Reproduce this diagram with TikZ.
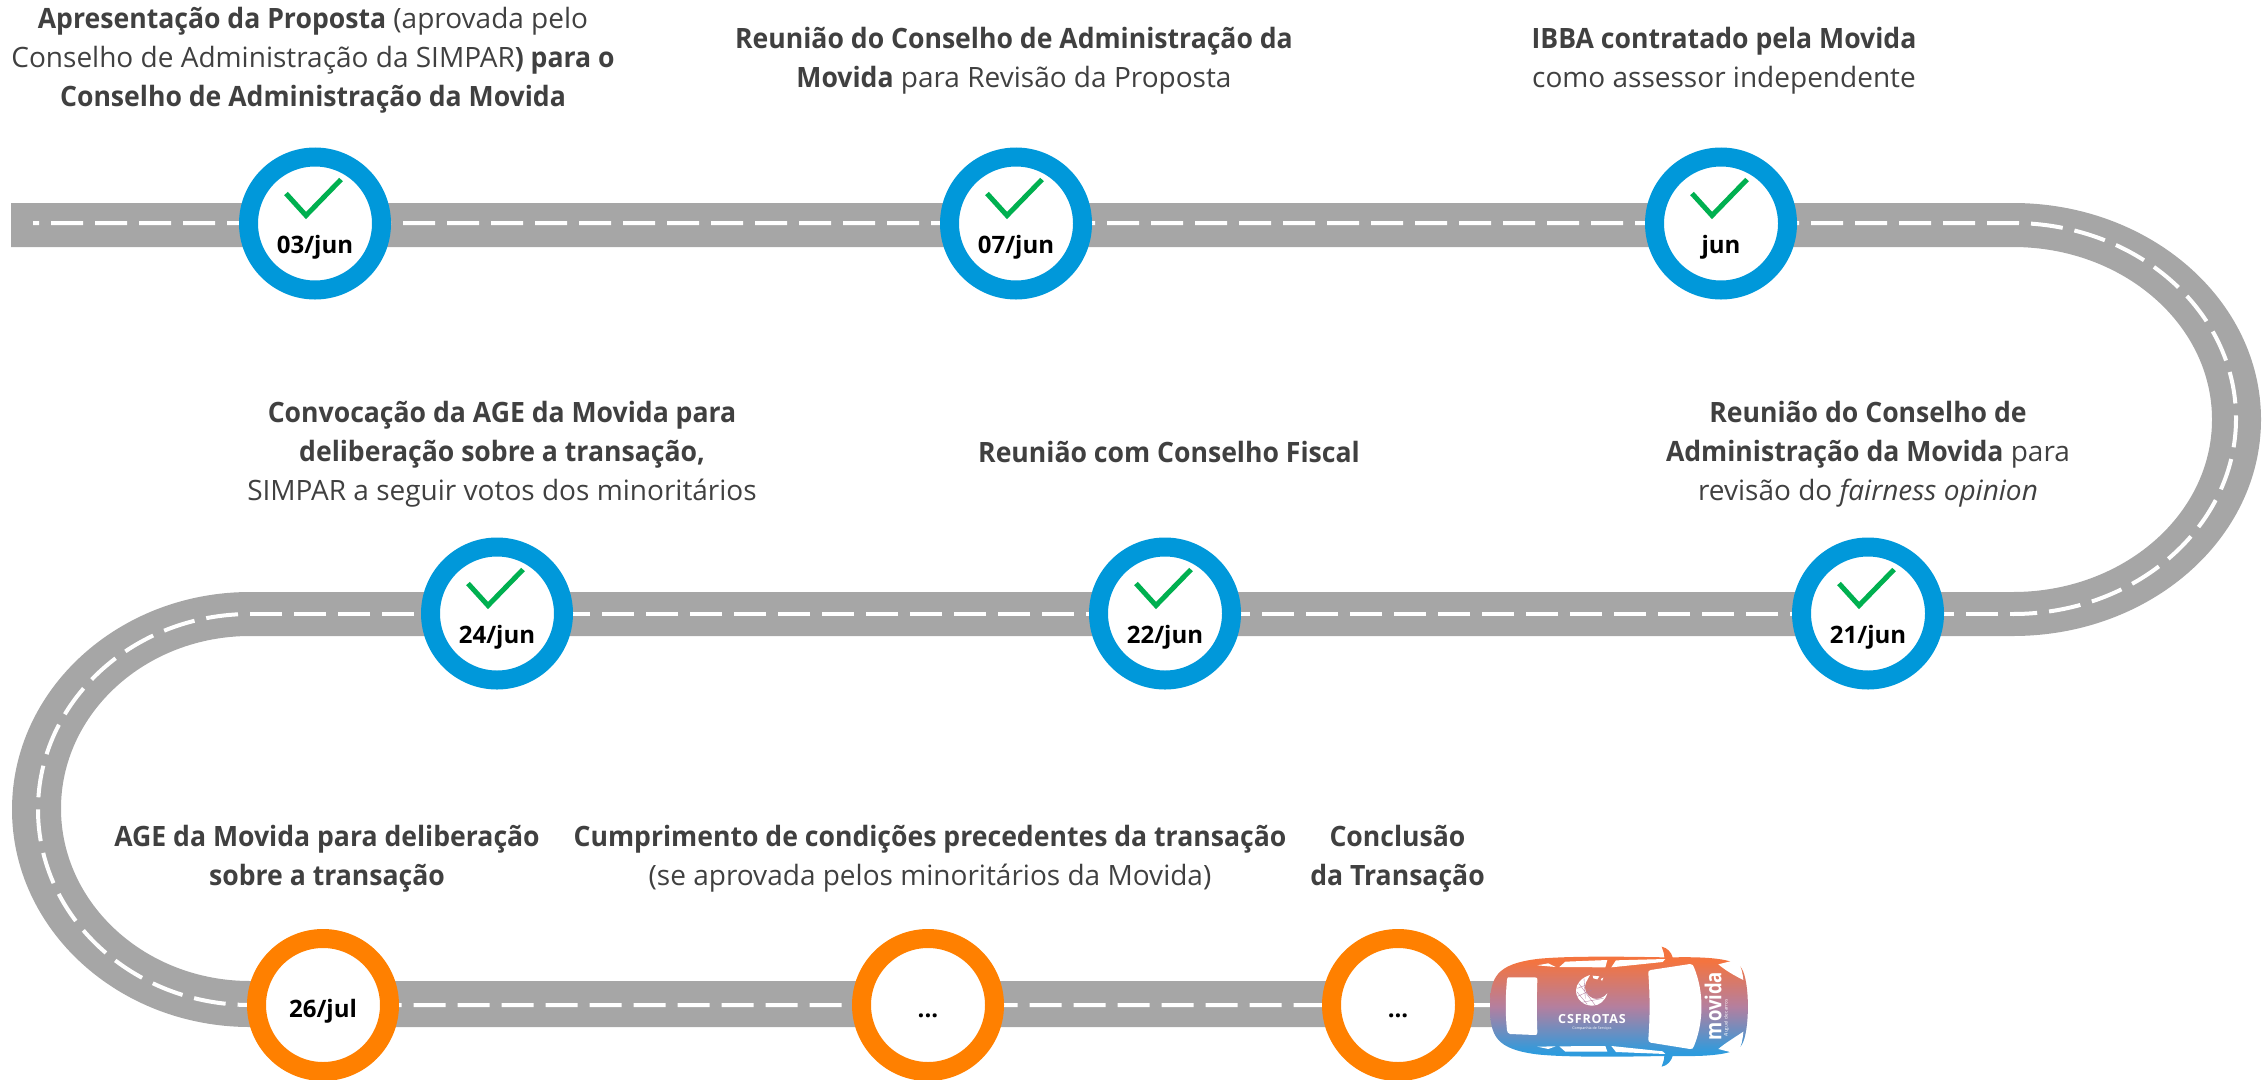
\documentclass[tikz,border=0pt]{standalone}
\usepackage{fontspec}
\setmainfont{Open Sans}
\newfontfamily\capfont{Open Sans}[BoldFeatures={FakeStretch=0.95}]
\newfontfamily\logofont{Open Sans}[LetterSpace=7]
\newfontfamily\mvfont{Open Sans}[FakeStretch=0.84]
\definecolor{road}{HTML}{A6A6A6}
\definecolor{ringblue}{HTML}{0098DA}
\definecolor{ringorange}{HTML}{FF8000}
\definecolor{okgreen}{HTML}{00B050}
\definecolor{txt}{HTML}{404040}
\definecolor{carorange}{HTML}{F4743F}
\definecolor{carmid}{HTML}{B47F9F}
\definecolor{carblue}{HTML}{2E9BDD}
\pgfdeclareverticalshading{carshade}{100bp}{color(0bp)=(carblue); color(31bp)=(carblue); color(50bp)=(carmid); color(69bp)=(carorange); color(100bp)=(carorange)}
\tikzset{
  milestone/.style={circle,draw=ringblue,fill=white,line width=19pt,minimum size=133pt,inner sep=0pt},
  future/.style={milestone,draw=ringorange},
  datelabel/.style={font=\bfseries\fontsize{24}{28}\selectfont,text=black,inner sep=0pt,anchor=base},
  caption/.style={font=\capfont\fontsize{28}{39}\selectfont,text=txt,align=center,inner sep=0pt,anchor=base},
  lane/.style={draw=white,line width=4pt},
  okmark/.style={draw=okgreen,line width=5pt,miter limit=10},
  carglass/.style={fill=white,draw=none}
}
\begin{document}
\begin{tikzpicture}[x=1pt,y=-1pt]
\useasboundingbox (0,0) rectangle (2267,1079);
% road surface
\fill[road] (11,203) -- (2013,203)
  arc[start angle=90,end angle=-90,x radius=248pt,y radius=216.5pt] -- (250,636)
  arc[start angle=90,end angle=270,x radius=189pt,y radius=172.5pt] -- (1500,981) -- (1500,1027) -- (250,1027)
  arc[start angle=270,end angle=90,x radius=238pt,y radius=217.5pt] -- (2013,592)
  arc[start angle=-90,end angle=90,x radius=199pt,y radius=172.5pt] -- (11,247) -- cycle;
% lane markings
\draw[lane,dash pattern=on 32pt off 12pt,dash phase=26pt] (33,223) -- (2013,223)
  arc[start angle=90,end angle=-90,x radius=223pt,y radius=195.5pt];
\draw[lane,dash pattern=on 32pt off 12pt,dash phase=29pt] (2013,614) -- (250,614);
\draw[lane,dash pattern=on 32pt off 12pt,dash phase=32pt] (250,614)
  arc[start angle=90,end angle=270,x radius=212pt,y radius=195.5pt] -- (1500,1005);
% milestones
\node[milestone] (m1) at (315,223.5) {};
\node[milestone] (m2) at (1016,223.5) {};
\node[milestone] (m3) at (1721,223.5) {};
\node[milestone] (m4) at (1868,613.5) {};
\node[milestone] (m5) at (1165,613.5) {};
\node[milestone] (m6) at (497,613.5) {};
\node[future] (m7) at (323,1005) {};
\node[future] (m8) at (928,1005) {};
\node[future] (m9) at (1398,1005) {};
\foreach \c in {m1,m2,m3,m4,m5,m6}{
  \draw[okmark] ([shift={(-29,-30)}]\c.center) -- ([shift={(-9,-8)}]\c.center) -- ([shift={(26,-44)}]\c.center);
}
\node[datelabel] (d1) at ([yshift=-29.5pt]m1.center) {03/jun};
\node[datelabel] (d2) at ([yshift=-29.5pt]m2.center) {07/jun};
\node[datelabel] (d3) at ([yshift=-29.5pt]m3.center) {jun};
\node[datelabel] (d4) at ([yshift=-29.5pt]m4.center) {21/jun};
\node[datelabel] (d5) at ([yshift=-29.5pt]m5.center) {22/jun};
\node[datelabel] (d6) at ([yshift=-29.5pt]m6.center) {24/jun};
\node[datelabel] (d7) at ([yshift=-12pt]m7.center) {26/jul};
\node[datelabel] (d8) at ([yshift=-12pt]m8.center) {...};
\node[datelabel] (d9) at ([yshift=-12pt]m9.center) {...};
% captions
\node[caption] (t1) at (313,106) {\textbf{Apresentação da Proposta} (aprovada pelo\\Conselho de Administração da SIMPAR\textbf{) para o}\\\textbf{Conselho de Administração da Movida}};
\node[caption] (t2) at (1014,87) {\textbf{Reunião do Conselho de Administração da}\\\textbf{Movida} para Revisão da Proposta};
\node[caption] (t3) at (1724,87) {\textbf{IBBA contratado pela Movida}\\como assessor independente};
\node[caption] (t4) at (1868,500) {\textbf{Reunião do Conselho de}\\\textbf{Administração da Movida} para\\revisão do \textit{fairness opinion}};
\node[caption] (t5) at (1169,462) {\textbf{Reunião com Conselho Fiscal}};
\node[caption] (t6) at (502,500) {\textbf{Convocação da AGE da Movida para}\\\textbf{deliberação sobre a transação,}\\SIMPAR a seguir votos dos minoritários};
\node[caption] (t7) at (327,885) {\textbf{AGE da Movida para deliberação}\\\textbf{sobre a transação}};
\node[caption] (t8) at (930,885) {\textbf{Cumprimento de condições precedentes da transação}\\(se aprovada pelos minoritários da Movida)};
\node[caption] (t9) at (1397.5,885) {\textbf{Conclusão}\\\textbf{da Transação}};
% car
\begin{scope}[shift={(1480,935)},x=0.3333pt,y=-0.3333pt]
\shade[shading=carshade]
  (30,215) .. controls (30,125) and (50,88) .. (170,72)
  .. controls (260,62) and (450,65) .. (553,67)
  .. controls (553,55) and (548,45) .. (545,35)
  .. controls (562,38) and (574,52) .. (578,67)
  .. controls (680,65) and (765,70) .. (785,100)
  .. controls (810,140) and (810,290) .. (785,330)
  .. controls (765,360) and (680,365) .. (578,363)
  .. controls (574,378) and (562,392) .. (545,395)
  .. controls (548,385) and (553,375) .. (553,363)
  .. controls (450,365) and (260,368) .. (170,358)
  .. controls (50,342) and (30,305) .. (30,215) -- cycle;
% rear window
\fill[carglass] (85,127) -- (165,127) .. controls (172,127) and (172,130) .. (172,135)
  .. controls (170,190) and (170,240) .. (172,292) .. controls (172,298) and (170,300) .. (165,300)
  -- (90,297) .. controls (83,296) and (82,290) .. (81,285) .. controls (76,240) and (76,185) .. (81,135)
  .. controls (82,130) and (82,127) .. (85,127) -- cycle;
% windshield
\fill[carglass] (512,105) -- (630,87) .. controls (638,87) and (640,92) .. (642,97)
  .. controls (672,170) and (672,260) .. (642,333) .. controls (640,340) and (636,343) .. (630,342)
  -- (512,323) .. controls (506,322) and (505,316) .. (505,312) .. controls (510,250) and (510,180) .. (505,115)
  .. controls (505,110) and (506,106) .. (512,105) -- cycle;
% side windows
\fill[carglass] (172,91) -- (205,85) -- (227,96) -- cycle;
\fill[carglass] (238,96) -- (256,80) -- (382,75) -- (376,97) -- cycle;
\fill[carglass] (394,97) -- (408,76) -- (556,72) -- (548,81) -- cycle;
\fill[carglass] (172,335) -- (205,342) -- (227,334) -- cycle;
\fill[carglass] (238,334) -- (256,350) -- (382,350) -- (376,333) -- cycle;
\fill[carglass] (394,333) -- (408,351) -- (556,357) -- (548,349) -- cycle;
% lights
\fill[carglass] (715,88) -- (770,74) .. controls (785,95) and (788,115) .. (790,135) .. controls (760,120) and (735,105) .. (715,88) -- cycle;
\fill[carglass] (715,342) -- (770,356) .. controls (785,335) and (788,315) .. (790,290) .. controls (760,310) and (735,325) .. (715,342) -- cycle;
% logo globe
\fill[white] (330,120) .. controls (305,128) and (288,145) .. (288,167)
  .. controls (288,192) and (310,212) .. (337,212)
  .. controls (358,212) and (375,198) .. (382,175)
  .. controls (370,190) and (352,195) .. (338,190)
  .. controls (320,183) and (308,160) .. (318,142)
  .. controls (322,133) and (328,125) .. (330,120) -- cycle;
\fill[white] (338,122) -- (358,124) -- (352,133) -- (340,130) -- cycle;
\fill[white] (362,132) -- (370,128) -- (366,138) -- cycle;
\draw[carmid,line width=0.35pt] (296,145) -- (345,210) (290,170) -- (322,208) (312,130) -- (316,190) (290,185) -- (335,165)
  (300,203) -- (370,190) (292,160) -- (318,150);
% logo texts
\node[inner sep=0pt,text=white,font=\logofont\bfseries\fontsize{12.5}{14}\selectfont] (cs) at (336,252) {CSFROTAS};
\node[inner sep=0pt,text=white,font=\fontsize{3.6}{4}\selectfont] (cs2) at (336,282) {Companhia de Serviços};
\node[inner sep=0pt,text=white,rotate=90,anchor=base,font=\mvfont\bfseries\fontsize{22}{24}\selectfont] (mv) at (724,213) {movida};
\node[inner sep=0pt,text=white,rotate=90,font=\fontsize{4.6}{5}\selectfont] (mv2) at (739,250) {Aluguel de carros};
\end{scope}
\end{tikzpicture}
\end{document}
